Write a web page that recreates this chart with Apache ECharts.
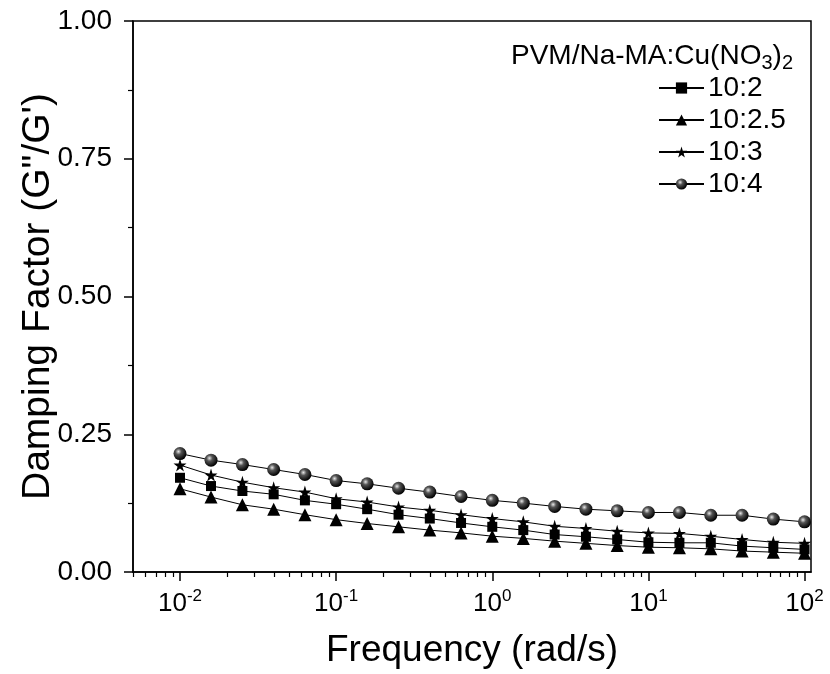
<!DOCTYPE html>
<html>
<head>
<meta charset="utf-8">
<script src="https://cdn.jsdelivr.net/npm/echarts@6/dist/echarts.min.js"></script>
<style>html,body{margin:0;padding:0;background:#fff;}#c{width:830px;height:674px;}</style>
</head>
<body>
<div id="c"></div>
<script>
const freq = [0.01, 0.0158, 0.0251, 0.0398, 0.0631, 0.1, 0.158, 0.251, 0.398, 0.631, 1, 1.58, 2.51, 3.98, 6.31, 10, 15.8, 25.1, 39.8, 63.1, 100];
const s10_2   = [0.171, 0.156, 0.147, 0.141, 0.130, 0.123, 0.114, 0.104, 0.097, 0.089, 0.082, 0.076, 0.068, 0.064, 0.059, 0.054, 0.053, 0.053, 0.047, 0.044, 0.041];
const s10_2_5 = [0.151, 0.136, 0.122, 0.114, 0.104, 0.095, 0.088, 0.082, 0.076, 0.071, 0.065, 0.061, 0.056, 0.052, 0.048, 0.045, 0.044, 0.042, 0.038, 0.036, 0.034];
const s10_3   = [0.194, 0.176, 0.163, 0.153, 0.145, 0.133, 0.127, 0.118, 0.112, 0.104, 0.097, 0.091, 0.083, 0.079, 0.074, 0.071, 0.070, 0.065, 0.059, 0.054, 0.052];
const s10_4   = [0.215, 0.203, 0.195, 0.186, 0.177, 0.166, 0.160, 0.152, 0.145, 0.137, 0.130, 0.125, 0.119, 0.114, 0.111, 0.108, 0.108, 0.103, 0.103, 0.096, 0.091];
const seriesNames = ['10:2', '10:2.5', '10:3', '10:4'];
const xMajorTicks = [0.01, 0.1, 1, 10, 100];
const xExponents = ['-2', '-1', '0', '1', '2'];
const xMinorTicks = [0.005,0.006,0.007,0.008,0.009, 0.02,0.03,0.04,0.05,0.06,0.07,0.08,0.09, 0.2,0.3,0.4,0.5,0.6,0.7,0.8,0.9, 2,3,4,5,6,7,8,9, 20,30,40,50,60,70,80,90];

const FONT = 'Liberation Sans, Arial, sans-serif';
const starPath = 'path://M50,0 L61,35 L98,35 L68,57 L79,91 L50,70 L21,91 L32,57 L2,35 L39,35 Z';
const sphere = {type:'radial', x:0.38, y:0.35, r:0.65, colorStops:[{offset:0,color:'#e8e8e8'},{offset:0.35,color:'#555'},{offset:1,color:'#000'}]};

function pairs(ys){ return freq.map((f,i)=>[f, ys[i]]); }
function mk(name, ys, symbol, size, color){
  return {name, type:'line', data:pairs(ys), symbol, symbolSize:size, showSymbol:true,
    lineStyle:{color:'#000', width:1}, itemStyle:{color:color, borderWidth:0}, z:3, animation:false};
}

const chart = echarts.init(document.getElementById('c'), null, {renderer:'canvas'});
chart.setOption({
  backgroundColor:'#fff',
  animation:false,
  textStyle:{fontFamily:FONT, color:'#000'},
  grid:{left:133, right:19, top:21, bottom:102, show:true, borderColor:'#000', borderWidth:1.5, backgroundColor:'transparent'},
  title:{
    text:'PVM/Na-MA:Cu(NO{sub|3}){sub|2}',
    right:32, top:34,
    textStyle:{fontFamily:FONT, fontSize:28, fontWeight:'normal', color:'#000', lineHeight:34,
      rich:{sub:{fontFamily:FONT, fontSize:20, lineHeight:20, verticalAlign:'bottom', color:'#000'}}}
  },
  legend:{
    orient:'vertical', left:658, top:74, padding:0, itemGap:4,
    itemWidth:45, itemHeight:14,
    data:seriesNames,
    textStyle:{fontFamily:FONT, fontSize:28, color:'#000', lineHeight:28, padding:[0,0,0,-1]}
  },
  xAxis:[{
    type:'log', logBase:10, min:0.005, max:110, gridIndex:0, position:'bottom',
    name:'Frequency (rad/s)', nameLocation:'middle', nameGap:60, nameMoveOverlap:false,
    nameTextStyle:{fontFamily:FONT, fontSize:37, color:'#000'},
    axisLine:{show:true, onZero:false, lineStyle:{color:'#000', width:1.5}},
    axisTick:{show:true, inside:false, length:9, customValues:xMajorTicks, lineStyle:{color:'#000', width:1.5}},
    axisLabel:{show:true, margin:16, customValues:xMajorTicks,
      formatter:function(v){ const i = xMajorTicks.findIndex(t=>Math.abs(Math.log10(t)-Math.log10(v))<1e-6); return i<0?'':'10{sup|'+xExponents[i]+'}'; },
      fontFamily:FONT, fontSize:26, color:'#000', lineHeight:32,
      rich:{sup:{fontFamily:FONT, fontSize:17, lineHeight:17, verticalAlign:'top', color:'#000'}}},
    splitLine:{show:false}, minorTick:{show:false}
  },{
    type:'log', logBase:10, min:0.005, max:110, gridIndex:0, position:'bottom', offset:0,
    axisLine:{show:false},
    axisTick:{show:true, inside:false, length:5, customValues:xMinorTicks, lineStyle:{color:'#000', width:1.2}},
    axisLabel:{show:false}, splitLine:{show:false}
  }],
  yAxis:{
    type:'value', min:0, max:1, interval:0.25,
    name:'Damping Factor (G"/G\')', nameLocation:'middle', nameGap:75, nameMoveOverlap:false,
    nameTextStyle:{fontFamily:FONT, fontSize:39, color:'#000'},
    axisLine:{show:true, onZero:false, lineStyle:{color:'#000', width:1.5}},
    axisTick:{show:true, inside:false, length:9, lineStyle:{color:'#000', width:1.5}},
    minorTick:{show:true, splitNumber:2, length:5, lineStyle:{color:'#000', width:1.2}},
    axisLabel:{margin:21, fontFamily:FONT, fontSize:28, color:'#000', formatter:v=>v.toFixed(2)},
    splitLine:{show:false}, minorSplitLine:{show:false}
  },
  series:[
    mk('10:2', s10_2, 'rect', 10, '#000'),
    mk('10:2.5', s10_2_5, 'triangle', 13, '#000'),
    mk('10:3', s10_3, starPath, 13, '#000'),
    mk('10:4', s10_4, 'circle', 13, sphere)
  ]
});
</script>
</body>
</html>
